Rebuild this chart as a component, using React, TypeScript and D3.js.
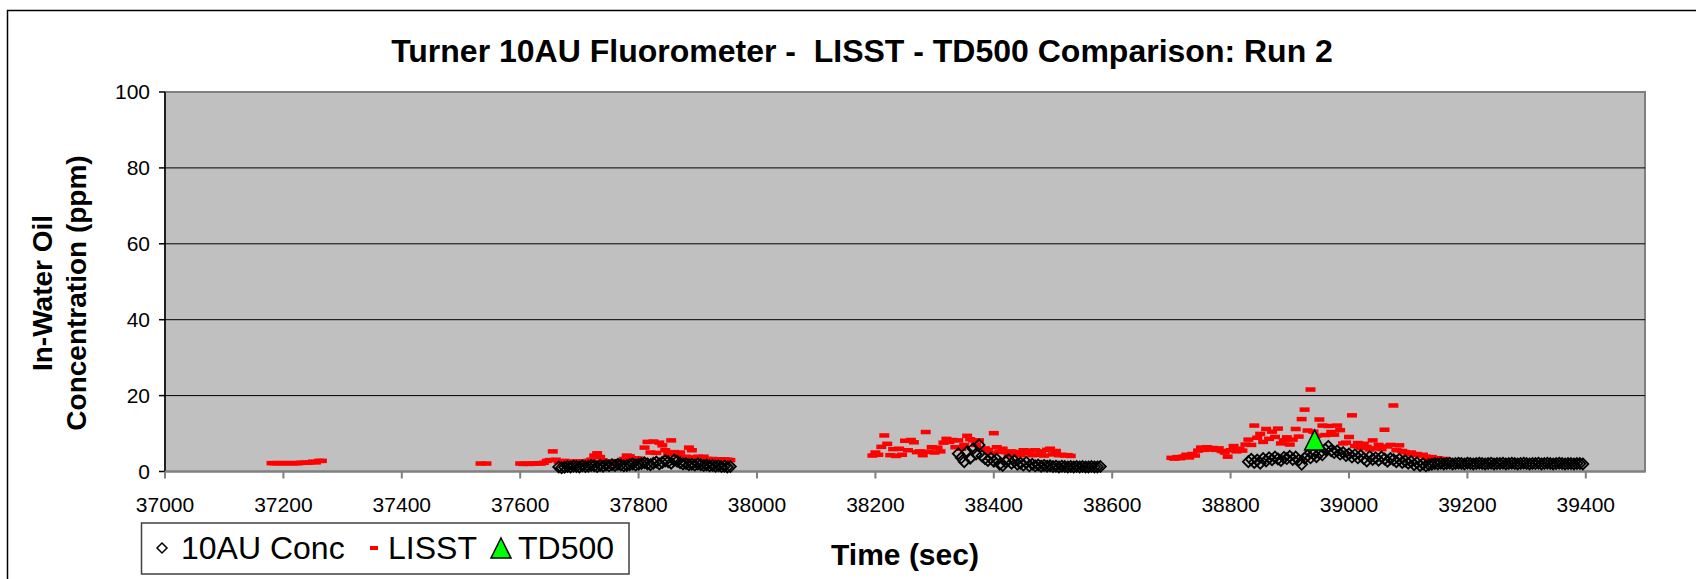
import React from 'react'
import * as d3 from 'd3'

// time axis + value axis
const xTicks = [37000, 37200, 37400, 37600, 37800, 38000, 38200, 38400, 38600, 38800, 39000, 39200, 39400]
const yTicks = [0, 20, 40, 60, 80, 100]
const sampleStep = 5

// 10AU Conc (diamonds), sampled every 5 s
const au10StartA = 37665
const au10ValuesA = [1.2, 1.0, 1.1, 1.3, 1.2, 1.4, 1.3, 1.2, 1.5, 1.3, 1.4, 1.6, 1.5, 1.3, 1.6, 1.4, 1.7, 1.5, 1.8, 1.6,
  1.9, 1.7, 1.5, 1.6, 1.8, 2.0, 1.7, 1.9, 2.1, 2.3, 2.0, 1.8, 2.2, 2.5, 2.0, 2.4, 2.8, 2.6, 2.2, 3.0,
  2.7, 2.3, 2.0, 2.1, 1.8, 1.9, 1.7, 2.0, 1.8, 1.6, 1.7, 1.5, 1.6, 1.4, 1.5, 1.3, 1.4, 1.2, 1.3]
const au10StartB = 38340
const au10ValuesB = [4.7, 3.6, 2.6, 5.2, 3.5, 6.0, 4.6, 7.0, 4.1, 3.4, 2.9, 3.5, 2.7, 3.2, 1.9, 1.6, 2.6, 3.1, 2.2, 2.8,
  1.9, 2.2, 1.7, 2.4, 1.5, 1.9, 1.5, 1.7, 1.4, 1.6, 1.4, 1.5, 1.3, 1.4, 1.2, 1.4, 1.3, 1.2, 1.3, 1.2,
  1.3, 1.2, 1.3, 1.2, 1.2, 1.3, 1.2, 1.2, 1.3]
const au10StartC = 38830
const au10ValuesC = [2.6, 3.2, 2.4, 3.0, 2.2, 3.4, 2.8, 3.6, 3.1, 3.8, 3.3, 2.9, 3.7, 3.4, 4.0, 3.2, 3.8, 3.0, 1.9, 3.5,
  4.2, 3.6, 4.6, 3.9, 4.8, 4.4, 5.8, 6.6, 5.5, 5.0, 5.4, 4.6, 5.0, 4.2, 4.6, 3.8, 4.4, 3.6, 4.2, 3.4,
  2.8, 3.9, 3.2, 3.6, 3.0, 3.8, 3.3, 2.7, 3.4, 3.1, 2.6, 3.2, 2.4, 2.8, 2.2, 2.6, 1.8, 2.3, 1.6, 2.0,
  1.5, 1.8, 1.9, 2.1, 2.0, 2.2, 2.0, 2.1, 2.2, 2.0, 2.1, 2.2, 2.1, 2.0, 2.2, 2.1, 2.0, 2.1, 2.2, 2.1,
  2.0, 2.1, 2.2, 2.0, 2.1, 2.1, 2.2, 2.0, 2.1, 2.2, 2.1, 2.0, 2.1, 2.2, 2.1, 2.0, 2.1, 2.1, 2.2, 2.0,
  2.1, 2.2, 2.1, 2.0, 2.1, 2.2, 2.1, 2.0, 2.1, 2.1, 2.0, 2.1, 2.1, 2.0]

// LISST (red dashes)
const lisstStartA = 37180
const lisstValuesA = [2.2, 2.2, 2.2, 2.2, 2.2, 2.2, 2.2, 2.2, 2.2, 2.2, 2.3, 2.3, 2.3, 2.4, 2.6, 2.4, 2.8, 2.8]
const lisstTimesB = [37533, 37543]
const lisstValuesB = [2.1, 2.1]
const lisstStartC = 37600
const lisstValuesC = [2.1, 2.0, 2.1, 2.0, 2.1, 2.1, 2.2, 2.1, 2.3, 2.8, 3.0, 5.3, 3.1, 2.6, 2.4, 2.8, 2.5, 2.6, 2.4, 2.7,
  2.5, 2.6, 2.5, 2.8, 3.1, 4.2, 4.8, 3.8, 2.9, 2.4, 2.6, 2.2, 2.6, 2.4, 2.5, 3.3, 4.2, 4.0, 3.2, 3.5,
  3.4, 3.0, 6.3, 7.8, 5.0, 7.9, 4.9, 7.6, 6.9, 5.6, 4.6, 8.2, 5.1, 4.4, 5.0, 3.6, 3.9, 6.3, 5.6, 3.7,
  3.9, 3.5, 3.9, 3.3, 3.2, 3.3, 3.1, 3.2, 3.1, 3.2, 3.1, 3.0]
const lisstStartD = 38195
const lisstValuesD = [4.2, 5.0, 4.4, 6.5, 9.5, 7.3, 4.3, 5.9, 4.1, 6.0, 4.4, 8.1, 5.6, 8.3, 7.7, 5.1, 5.3, 4.3, 10.4, 5.2,
  6.4, 5.0, 6.3, 5.3, 7.6, 8.6, 7.8, 8.3, 6.4, 8.2, 6.0, 7.0, 9.4, 8.5, 8.2, 7.0, 8.2, 5.9, 6.1, 5.7,
  4.9, 10.1, 6.4, 5.2, 6.0, 5.1, 4.2, 5.3, 4.4, 5.1, 4.3, 5.6, 4.8, 5.5, 4.3, 5.6, 4.4, 5.3, 4.2, 5.7,
  6.0, 4.5, 5.4, 4.3, 4.4, 4.2, 4.3, 4.1]
const lisstStartE = 38700
const lisstValuesE = [3.6, 3.4, 3.8, 3.5, 3.9, 4.4, 3.7, 4.6, 4.2, 5.5, 6.3, 5.7, 6.4, 5.8, 6.2, 5.7, 6.1, 5.4, 5.0, 3.9,
  5.6, 6.7, 5.3, 6.0, 5.5, 7.1, 8.4, 7.0, 12.1, 8.9, 9.9, 7.8, 11.2, 8.6, 10.5, 9.1, 11.3, 7.4, 8.2, 9.0,
  7.1, 8.4, 11.2, 9.2, 13.8, 16.3, 10.8, 21.6, 10.5, 9.4, 13.7, 12.1, 9.6, 12.0, 10.4, 9.7, 12.1, 10.9, 7.4, 7.6,
  9.1, 14.8, 6.7, 7.5, 6.2, 7.3, 6.5, 5.8, 8.2, 6.1, 7.0, 5.9, 11.0, 6.6, 7.0, 17.4, 5.6, 6.9, 5.4, 5.1,
  4.6, 5.0, 4.4, 4.6, 4.2, 4.4, 3.9, 3.6, 3.8, 3.4, 3.5, 3.2, 3.3]

// TD500 (single sample)
const td500Times = [38942]
const td500Values = [8.3]

const toPoints = (start: number, values: number[]) =>
  values.map((v, i) => ({ t: start + i * sampleStep, v }))

const au10 = [
  ...toPoints(au10StartA, au10ValuesA),
  ...toPoints(au10StartB, au10ValuesB),
  ...toPoints(au10StartC, au10ValuesC),
]
const lisst = [
  ...toPoints(lisstStartA, lisstValuesA),
  ...lisstTimesB.map((t, i) => ({ t, v: lisstValuesB[i] })),
  ...toPoints(lisstStartC, lisstValuesC),
  ...toPoints(lisstStartD, lisstValuesD),
  ...toPoints(lisstStartE, lisstValuesE),
]
const td500 = td500Times.map((t, i) => ({ t, v: td500Values[i] }))

const plot = { left: 165, right: 1645, top: 92, bottom: 471.5 }
const font = 'Liberation Sans, Arial, sans-serif'

// marker shapes
const diamondPath = (r: number) => `M0,${-r}L${r},0L0,${r}L${-r},0Z`
const trianglePath = (w: number, h: number) => `M0,${-h / 2}L${w / 2},${h / 2}L${-w / 2},${h / 2}Z`

const App = () => {
  const x = d3.scaleLinear().domain([37000, 39500]).range([plot.left, plot.right])
  const y = d3.scaleLinear().domain([0, 100]).range([plot.bottom, plot.top])

  const diamond = diamondPath(5.5)
  const triangle = trianglePath(20, 20)

  return (
    <svg width={1696} height={579} style={{ position: 'absolute', left: 0, top: 0 }} fontFamily={font}>
      <rect x={0} y={0} width={1696} height={579} fill="#fff" />
      <rect x={7.5} y={10.5} width={1720} height={620} fill="#fff" stroke="#000" strokeWidth={1.5} />

      <text x={862} y={62} textAnchor="middle" fontSize={32} fontWeight="bold">
        Turner 10AU Fluorometer -{'\u00a0\u00a0'}LISST - TD500 Comparison: Run 2
      </text>

      {/* plot area */}
      <rect x={plot.left} y={plot.top} width={plot.right - plot.left} height={plot.bottom - plot.top}
        fill="#c0c0c0" stroke="#808080" strokeWidth={2} />
      {yTicks.filter(t => t > 0 && t < 100).map(t => (
        <line key={t} x1={plot.left} x2={plot.right} y1={y(t)} y2={y(t)} stroke="#000" strokeWidth={1} />
      ))}

      {/* axes */}
      <line x1={plot.left} x2={plot.left} y1={plot.top} y2={plot.bottom} stroke="#000" strokeWidth={1.5} />
      <line x1={plot.left} x2={plot.right} y1={plot.bottom} y2={plot.bottom} stroke="#808080" strokeWidth={2} />
      {yTicks.map(t => (
        <g key={t}>
          <line x1={plot.left - 6} x2={plot.left} y1={y(t)} y2={y(t)} stroke="#000" strokeWidth={1.5} />
          <text x={150} y={y(t)} dy="0.35em" textAnchor="end" fontSize={21}>{t}</text>
        </g>
      ))}
      {xTicks.map(t => (
        <g key={t}>
          <line x1={x(t)} x2={x(t)} y1={plot.bottom} y2={plot.bottom + 7} stroke="#808080" strokeWidth={2} />
          <text x={x(t)} y={512} textAnchor="middle" fontSize={21}>{t}</text>
        </g>
      ))}

      {/* series */}
      <g>
        {lisst.map((d, i) => (
          <rect key={i} x={x(d.t) - 5} y={y(d.v) - 2.25} width={10} height={4.5} fill="#ff0000" />
        ))}
      </g>
      <g>
        {au10.map((d, i) => (
          <path key={i} d={diamond} transform={`translate(${x(d.t)},${y(d.v)})`}
            fill="none" stroke="#000" strokeWidth={1.8} />
        ))}
      </g>
      <g>
        {td500.map((d, i) => (
          <path key={i} d={triangle} transform={`translate(${x(d.t)},${y(d.v)})`}
            fill="#00ff00" stroke="#000" strokeWidth={1.5} />
        ))}
      </g>

      {/* axis titles */}
      <text x={905} y={565} textAnchor="middle" fontSize={30} fontWeight="bold">Time (sec)</text>
      <g transform="translate(0, 293) rotate(-90)" fontSize={28} fontWeight="bold" textAnchor="middle">
        <text x={0} y={52}>In-Water Oil</text>
        <text x={0} y={86}>Concentration (ppm)</text>
      </g>

      {/* legend */}
      <g>
        <rect x={141.5} y={523} width={487.5} height={51} fill="#fff" stroke="#404040" strokeWidth={1.5} />
        <path d={diamondPath(5)} transform="translate(162,548)" fill="none" stroke="#000" strokeWidth={1.5} />
        <text x={181} y={559} fontSize={32}>10AU Conc</text>
        <rect x={370} y={546} width={8} height={4} fill="#ff0000" />
        <text x={388} y={559} fontSize={32}>LISST</text>
        <path d={trianglePath(20, 20)} transform="translate(501,548)" fill="#00ff00" stroke="#000" strokeWidth={1.5} />
        <text x={518} y={559} fontSize={32}>TD500</text>
      </g>
    </svg>
  )
}

export default App
